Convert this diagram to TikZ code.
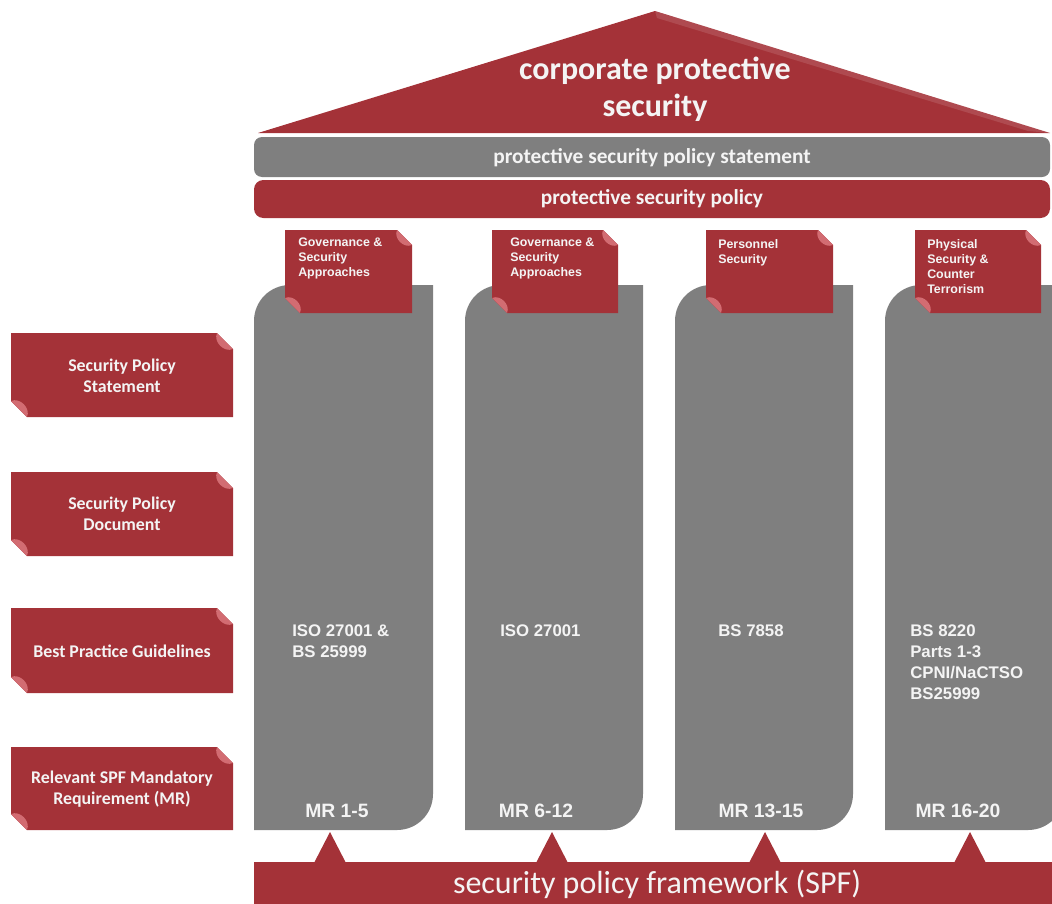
\documentclass[tikz,border=0pt]{standalone}
\usepackage{fontspec}
\newfontfamily\calfont{Carlito}
\newfontfamily\arifont{Liberation Sans}
\definecolor{sred}{RGB}{164,50,56}
\definecolor{sgray}{RGB}{127,127,127}
\definecolor{scurl}{RGB}{210,108,114}
\definecolor{stext}{RGB}{244,244,244}
\newcommand\curlbox[5]{%
  \fill[sred] (#1,#2) -- ({#3-#5},#2) -- (#3,{#2+#5}) -- (#3,#4) -- ({#1+#5},#4) -- (#1,{#4-#5}) -- cycle;
  \fill[scurl] (#3,{#2+#5}) .. controls ({#3-0.55*#5},{#2+1.25*#5}) and ({#3-1.25*#5},{#2+0.55*#5}) .. ({#3-#5},#2) -- cycle;
  \fill[scurl] (#1,{#4-#5}) .. controls ({#1+0.55*#5},{#4-1.25*#5}) and ({#1+1.25*#5},{#4-0.55*#5}) .. ({#1+#5},#4) -- cycle;
}
\newcommand\pillar[4]{%
  \fill[sgray] (#1,#4) -- (#1,{#2+36}) .. controls (#1,{#2+16}) and ({#1+16},#2) .. ({#1+36},#2)
    -- (#3,#2) -- (#3,{#4-36}) .. controls (#3,{#4-16}) and ({#3-16},#4) .. ({#3-36},#4) -- cycle;
}
\begin{document}
\begin{tikzpicture}[x=0.75pt,y=-0.75pt,
  txt/.style={text=stext, inner sep=0pt},
  rooftxt/.style={txt, font=\calfont\bfseries\fontsize{24}{27.75}\selectfont, align=center},
  bartxt/.style={txt, font=\calfont\bfseries\fontsize{16}{19}\selectfont},
  lbltxt/.style={txt, font=\calfont\bfseries\fontsize{13.4}{15.75}\selectfont, align=center},
  tabtxt/.style={txt, font=\arifont\bfseries\fontsize{9.3}{11.25}\selectfont, align=left, anchor=north west},
  piltxt/.style={txt, font=\arifont\bfseries\fontsize{12.6}{15.75}\selectfont, align=left, anchor=north west},
  mrtxt/.style={txt, font=\arifont\bfseries\fontsize{14.5}{17}\selectfont},
  spftxt/.style={txt, font=\calfont\fontsize{24}{28}\selectfont},
]
\useasboundingbox (0,0) rectangle (1052,903);
\clip (0,0) rectangle (1052,903);

% roof
\fill[sred] (258,133) -- (655,11) -- (1050,133) -- cycle;
\fill[white, opacity=0.12] (655,11) -- (1050,133) -- (1028,131) -- (657,18) -- cycle;
\node[rooftxt] (roof) at (655,89) {corporate protective\\security};

% bars
\fill[sgray, rounded corners=6] (254,137) rectangle (1050,177);
\node[bartxt] (pss) at (652,158) {protective security policy statement};
\fill[sred, rounded corners=7] (254,180) rectangle (1050,218);
\node[bartxt] (psp) at (652,199) {protective security policy};

% pillars
\pillar{254}{285}{433}{830}
\pillar{465}{285}{643}{830}
\pillar{675}{285}{853}{830}
\pillar{885}{285}{1064}{830}

% tabs
\curlbox{285}{230}{412}{313}{15}
\curlbox{492}{230}{618}{313}{15}
\curlbox{706}{230}{833}{313}{15}
\curlbox{915}{230}{1041}{313}{15}
\node[tabtxt] (tab1) at (298,238) {Governance \&\\Security\\Approaches};
\node[tabtxt] (tab2) at (510,238) {Governance \&\\Security\\Approaches};
\node[tabtxt] (tab3) at (718,239) {Personnel\\Security};
\node[tabtxt] (tab4) at (927,239) {Physical\\Security \&\\Counter\\Terrorism};

% left labels
\curlbox{11}{333}{233}{417}{16}
\curlbox{11}{472}{233}{556}{16}
\curlbox{11}{608}{233}{693}{16}
\curlbox{11}{747}{233}{830}{16}
\node[lbltxt] (l1) at (122,376) {Security Policy\\Statement};
\node[lbltxt] (l2) at (122,514) {Security Policy\\Document};
\node[lbltxt] (l3) at (122,651) {Best Practice Guidelines};
\node[lbltxt] (l4) at (122,789) {Relevant SPF Mandatory\\Requirement (MR)};

% pillar texts
\node[piltxt] (p1) at (292,624) {ISO 27001 \&\\BS 25999};
\node[piltxt] (p2) at (500,624) {ISO 27001};
\node[piltxt] (p3) at (718,624) {BS 7858};
\node[piltxt] (p4) at (910,624) {BS 8220\\Parts 1-3\\CPNI/NaCTSO\\BS25999};

\node[mrtxt] (mr1) at (337,811) {MR 1-5};
\node[mrtxt] (mr2) at (536,811) {MR 6-12};
\node[mrtxt] (mr3) at (761,811) {MR 13-15};
\node[mrtxt] (mr4) at (958,811) {MR 16-20};

% base
\fill[sred] (254,862) rectangle (1060,910);
\foreach \tx in {330,552,765,970}{
  \fill[sred] ({\tx-16},863) -- (\tx,832) -- ({\tx+16},863) -- cycle;
}
\node[spftxt] (spf) at (657,884) {security policy framework (SPF)};
\end{tikzpicture}
\end{document}
